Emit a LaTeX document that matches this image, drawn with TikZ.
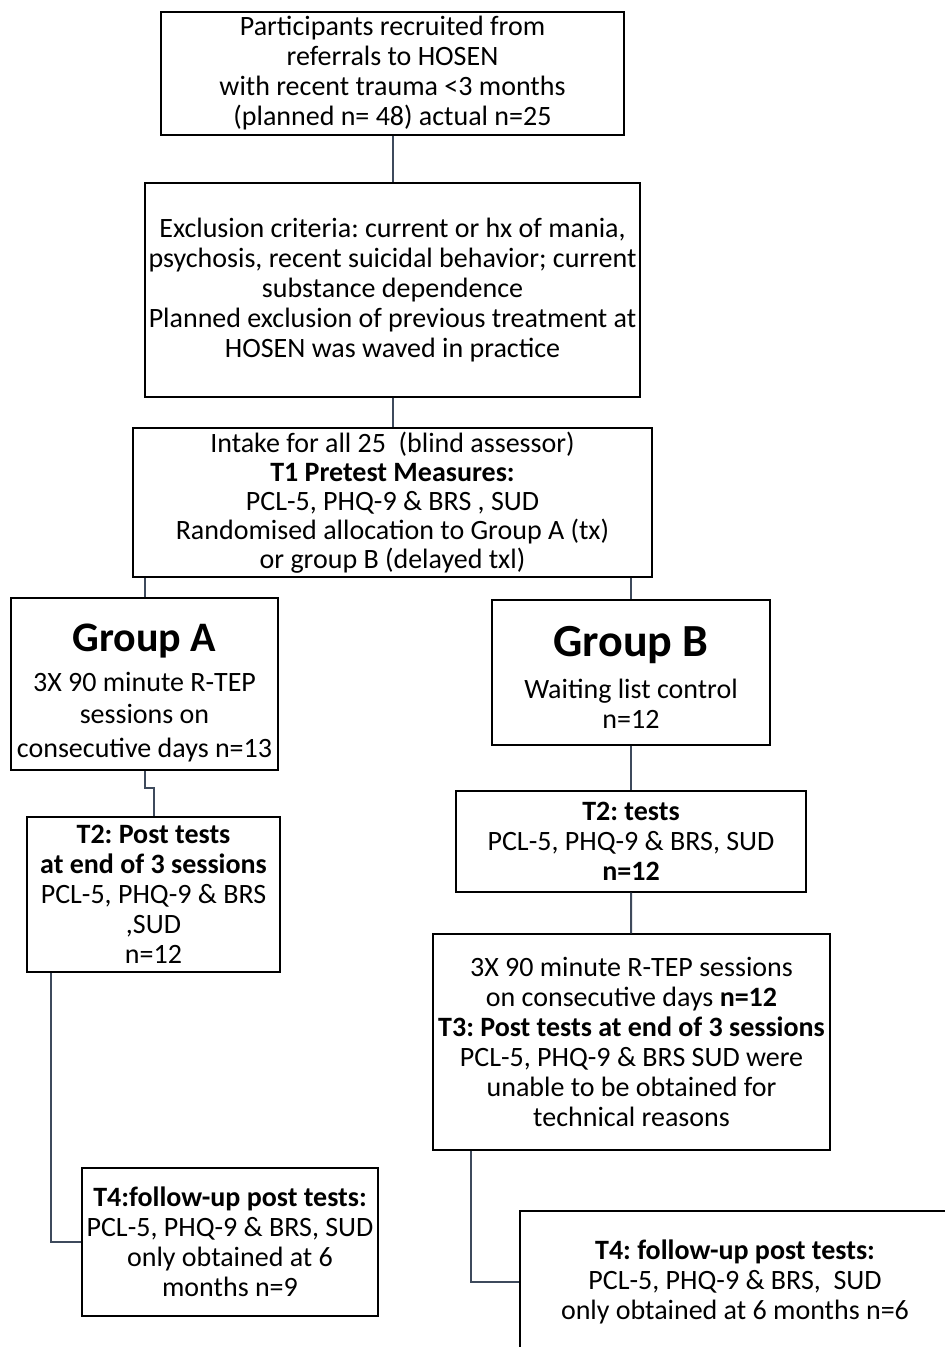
\documentclass[tikz,border=0pt]{standalone}
\usepackage{fontspec}
\setmainfont{Carlito}
\usetikzlibrary{positioning}
\definecolor{linkgray}{HTML}{3E4A5C}
\newcommand{\groupfont}{\fontsize{21}{24}\selectfont\bfseries}
\frenchspacing
\tikzset{
     box/.style = {draw=black, line width=0.6pt, align=center, inner sep=1pt,
                   font=\fontsize{14}{15}\selectfont},
     link/.style = {draw=linkgray, line width=1pt},
    }

\begin{document}
\begin{tikzpicture}[x=0.5pt, y=-0.5pt]
        \useasboundingbox (0,0) rectangle (945,1347);
        \node [box, minimum width=231.5pt, minimum height=61.5pt] (recruit) at (392.5,73.5)
            {Participants recruited from\\referrals to HOSEN\\with recent trauma <3 months\\(planned n= 48) actual n=25};
        \node [box, minimum width=247.5pt, minimum height=107pt] (exclude) at (392.5,290)
            {Exclusion criteria: current or hx of mania,\\psychosis, recent suicidal behavior; current\\substance dependence\\Planned exclusion of previous treatment at\\HOSEN was waved in practice};
        \node [box, minimum width=259.5pt, minimum height=74.5pt, font=\fontsize{14}{14.5}\selectfont] (intake) at (392.5,502.5)
            {Intake for all 25~~(blind assessor)\\\textbf{T1 Pretest Measures:}\\PCL-5, PHQ-9 \& BRS , SUD\\Randomised allocation to Group A (tx)\\or group B (delayed txl)};
        \node [box, minimum width=133.5pt, minimum height=86pt] (grpa) at (144.5,684)
            {\rule{0pt}{23pt}{\groupfont Group A}\\[5pt]3X 90 minute R-TEP\\[1pt]sessions on\\[2pt]consecutive days n=13};
        \node [box, minimum width=126.5pt, minimum height=77.5pt] (posta) at (153.5,894.5)
            {\textbf{T2: Post tests}\\\textbf{at end of 3 sessions}\\PCL-5, PHQ-9 \& BRS\\,SUD\\n=12};
        \node [box, minimum width=148pt, minimum height=74pt] (folla) at (230,1242)
            {\textbf{T4:follow-up post tests:}\\PCL-5, PHQ-9 \& BRS, SUD\\only obtained at 6\\months n=9};
        \node [box, minimum width=139pt, minimum height=72.5pt] (grpb) at (631,672.5)
            {\rule{0pt}{20pt}{\groupfont\fontsize{23}{26}\selectfont Group B}\\[6pt]Waiting list control\\n=12};
        \node [box, minimum width=175pt, minimum height=50.5pt] (testb) at (631,841.5)
            {\textbf{T2: tests}\\PCL-5, PHQ-9 \& BRS, SUD\\\textbf{n=12}};
        \node [box, minimum width=198.5pt, minimum height=108pt] (sessb) at (631.5,1042)
            {3X 90 minute R-TEP sessions\\on consecutive days \textbf{n=12}\\\textbf{T3: Post tests at end of 3 sessions}\\PCL-5, PHQ-9 \& BRS SUD were\\unable to be obtained for\\technical reasons};
        \node [box, minimum width=215pt, minimum height=70.5pt] (follb) at (735,1281.5)
            {\textbf{T4: follow-up post tests:}\\PCL-5, PHQ-9 \& BRS,~~SUD\\only obtained at 6 months n=6};
        \path [link]
        (recruit) edge (exclude)
        (exclude) edge (intake)
        (intake.south -| grpa.north) edge (grpa)
        (intake.south -| grpb.north) edge (grpb)
        (grpb) edge (testb)
        (testb) edge (sessb);
        \draw [link] (grpa.south) -- ++(0,17) -| (posta.north);
        \draw [link] ([xshift=12.5pt]posta.south west) |- (folla.west);
        \draw [link] ([xshift=19.5pt]sessb.south west) |- (follb.west);
    \end{tikzpicture}
\end{document}
